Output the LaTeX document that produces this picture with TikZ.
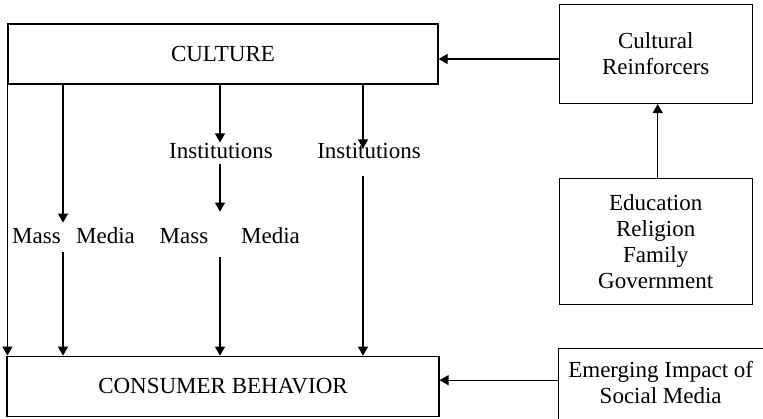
\documentclass[tikz,border=0pt]{standalone}
\usepackage{fontspec}
\setmainfont{Liberation Serif}
\usetikzlibrary{positioning,arrows.meta}

\begin{document}
\begin{tikzpicture}[x=0.5pt,y=-0.5pt,font=\fontsize{11.5}{13}\selectfont,
	box/.style={rectangle,draw=black,line width=0.6pt,align=center,inner sep=0pt},
	lbl/.style={rectangle,inner sep=0pt,anchor=base},
	gap/.style={rectangle,inner sep=0pt,minimum width=0pt},
	arr/.style={line width=0.6pt,-{Triangle[length=4.5pt,width=5pt]}}]
		\useasboundingbox (0,0) rectangle (763,418);
		\clip (0,0) rectangle (763,418);
		\node[box,minimum width=215pt,minimum height=30pt] (1) at (223,54) {CULTURE};
		\node[box,right=60pt of 1,minimum width=96.5pt,minimum height=49.5pt] (2) {Cultural\\Reinforcers};
		\node[box,below=37pt of 2,minimum width=96.5pt,minimum height=63pt] (3) {Education\\Religion\\Family\\Government};
		\node[box,below=135.5pt of 1,minimum width=216pt,minimum height=30pt] (4) {CONSUMER BEHAVIOR};
		\node[box,right=59pt of 4,minimum width=102.5pt,minimum height=38pt,text depth=4pt] (5) {Emerging Impact of\\Social Media};
		\node[gap,minimum height=14.5pt] (6) at (63,237.5) {};
		\node[lbl] (7) at (36.5,243) {Mass};
		\node[lbl] (8) at (105.5,243) {Media};
		\node[lbl] (9) at (221,158) {Institutions};
		\node[gap,minimum height=22.5pt] (10) at (220,234.5) {};
		\node[lbl] (11) at (184,243) {Mass};
		\node[lbl] (12) at (270.5,243) {Media};
		\node[lbl] (13) at (369,158) {Institutions};
		\coordinate (14) at ([xshift=-3pt]13.north);

		\draw[arr] ([yshift=-2.5pt]2.west) -- ([yshift=-2.5pt]1.east);
		\draw[arr] ([xshift=1pt]3.north) -- ([xshift=1pt]2.south);
		\draw[arr] ([yshift=3pt]5.west) -- ([yshift=3pt]4.east);
		\draw[arr] (1.south west) -- (1.south west |- 4.north);
		\draw[arr] (1.south -| 6) -- (6.north);
		\draw[arr] (6.south) -- (6 |- 4.north);
		\draw[arr] (1.south -| 10) -- (10 |- 9.north);
		\draw[arr,shorten <=2.5pt] (10 |- 9.south) -- (10.north);
		\draw[arr] (10.south) -- (10 |- 4.north);
		\draw[arr,shorten >=-3pt] (1.south -| 14) -- (14);
		\draw[arr,shorten <=8.5pt] (14 |- 13.south) -- (14 |- 4.north);
	\end{tikzpicture}
\end{document}
